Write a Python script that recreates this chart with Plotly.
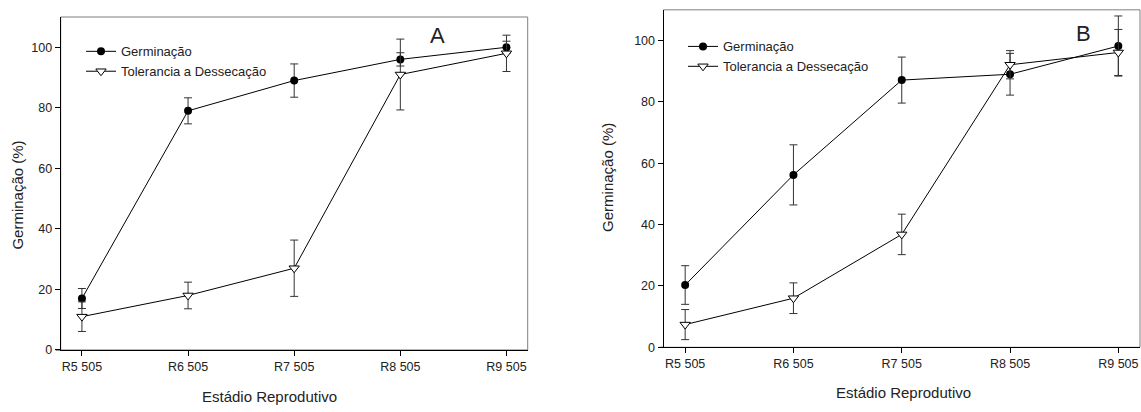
import plotly.graph_objects as go

stages = ["R5 505", "R6 505", "R7 505", "R8 505", "R9 505"]

# Panel A
germ_a = [17, 79, 89, 96, 100]
germ_a_err = [3.3, 4.3, 5.5, 2.2, 2.0]
tol_a = [11, 18, 27, 91, 98]
tol_a_err = [4.9, 4.4, 9.3, 11.7, 6.0]

# Panel B
germ_b = [20.3, 56.2, 87.1, 89.0, 98.2]
germ_b_err = [6.3, 9.8, 7.5, 6.8, 9.8]
tol_b = [7.4, 16.0, 36.8, 92.1, 96.1]
tol_b_err = [4.9, 5.0, 6.6, 4.6, 7.5]

yticks = [0, 20, 40, 60, 80, 100]

FONT = "Arial, Liberation Sans, sans-serif"
W, H = 1141, 412

fig = go.Figure()

def add_pair(g, ge, t, te, xa, ya, leg):
    fig.add_trace(go.Scatter(
        x=stages, y=g, mode="lines+markers", name="Germinação",
        xaxis=xa, yaxis=ya, legend=leg, showlegend=True,
        line=dict(color="black", width=1),
        marker=dict(symbol="circle", size=8, color="black"),
        error_y=dict(type="data", array=ge, visible=True, color="#333333", thickness=1, width=4),
    ))
    fig.add_trace(go.Scatter(
        x=stages, y=t, mode="lines+markers", name="Tolerancia a Dessecação",
        xaxis=xa, yaxis=ya, legend=leg, showlegend=True,
        line=dict(color="black", width=1),
        marker=dict(symbol="triangle-down", size=9, color="white", line=dict(color="black", width=1)),
        error_y=dict(type="data", array=te, visible=True, color="#333333", thickness=1, width=4),
    ))

add_pair(germ_a, germ_a_err, tol_a, tol_a_err, "x", "y", "legend")
add_pair(germ_b, germ_b_err, tol_b, tol_b_err, "x2", "y2", "legend2")

axis_common = dict(
    showline=True, linecolor="black", linewidth=1, ticks="outside", ticklen=5,
    tickcolor="black", tickwidth=1, showgrid=False, zeroline=False,
    tickfont=dict(family=FONT, size=12.5, color="#222"),
)

xa_dom = [60.7 / W, 527.7 / W]
ya_dom = [(H - 356) / H, (H - 17.3) / H]
xb_dom = [663.5 / W, 1140 / W]
yb_dom = [(H - 353.3) / H, (H - 10) / H]

fig.update_layout(
    width=W, height=H, margin=dict(l=0, r=0, t=0, b=0),
    paper_bgcolor="white", plot_bgcolor="white",
    xaxis=dict(domain=xa_dom, anchor="y", type="category", range=[-0.2, 4.2], **axis_common),
    yaxis=dict(domain=ya_dom, anchor="x", range=[0, 110], tickvals=yticks, **axis_common),
    xaxis2=dict(domain=xb_dom, anchor="y2", type="category", range=[-0.2, 4.2], **axis_common),
    yaxis2=dict(domain=yb_dom, anchor="x2", range=[0, 110], tickvals=yticks, **axis_common),
    legend=dict(x=81 / W, y=(H - 37) / H, xanchor="left", yanchor="top",
                bgcolor="rgba(0,0,0,0)", font=dict(family=FONT, size=13, color="#222"),
                tracegroupgap=0, itemwidth=30),
    legend2=dict(x=683 / W, y=(H - 32) / H, xanchor="left", yanchor="top",
                 bgcolor="rgba(0,0,0,0)", font=dict(family=FONT, size=13, color="#222"),
                 tracegroupgap=0, itemwidth=30),
    showlegend=True,
)

# Gray top/right frame
for xr, yr in (("x domain", "y domain"), ("x2 domain", "y2 domain")):
    fig.add_shape(type="rect", xref=xr, yref=yr, x0=0, x1=1, y0=0, y1=1,
                  line=dict(color="#7f7f7f", width=1), layer="below")
# small left overshoot of the x axis line
fig.add_shape(type="line", xref="x domain", yref="y domain", x0=-5 / 467, x1=0, y0=0, y1=0,
              line=dict(color="black", width=1))
fig.add_shape(type="line", xref="x2 domain", yref="y2 domain", x0=-4 / 476.5, x1=0, y0=0, y1=0,
              line=dict(color="black", width=1))

annos = [
    dict(text="A", x=437 / W, y=(H - 36) / H, size=22),
    dict(text="B", x=1083 / W, y=(H - 34) / H, size=22),
    dict(text="Estádio Reprodutivo", x=269 / W, y=(H - 403) / H, size=15),
    dict(text="Estádio Reprodutivo", x=903 / W, y=(H - 399) / H, size=15),
]
for a in annos:
    fig.add_annotation(text=a["text"], x=a["x"], y=a["y"], xref="paper", yref="paper",
                       xanchor="center", yanchor="middle", showarrow=False,
                       font=dict(family=FONT, size=a["size"], color="#222"))
for xx, yy in ((18, 199), (608, 181)):
    fig.add_annotation(text="Germinação (%)", x=xx / W, y=(H - yy) / H, xref="paper", yref="paper",
                       xanchor="center", yanchor="middle", showarrow=False, textangle=-90,
                       font=dict(family=FONT, size=15, color="#222"))

fig.write_html("out.html", config={"displayModeBar": False},
               post_script="document.body.style.margin='0';")
